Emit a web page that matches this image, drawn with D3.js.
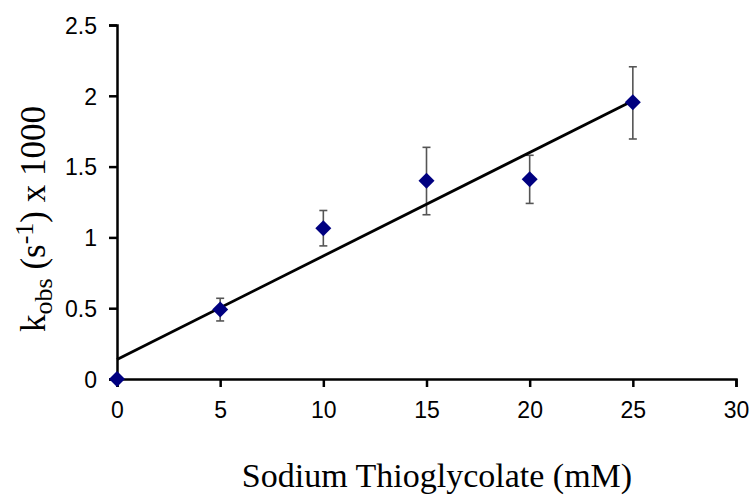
<!DOCTYPE html>
<html>
<head>
<meta charset="utf-8">
<script src="https://cdn.jsdelivr.net/npm/d3@7"></script>
<style>
  body { margin: 0; background: #fff; }
  svg { display: block; }
</style>
</head>
<body>
<div id="chart"></div>
<script>
// concentration (mM) and k_obs x 1000 with error bars
const conc = [0, 5, 10, 15, 20, 25];
const kobs = [0, 0.49, 1.064, 1.40, 1.41, 1.955];
const errLow = [0, 0.41, 0.94, 1.16, 1.24, 1.695];
const errHigh = [0, 0.57, 1.19, 1.636, 1.58, 2.205];
// linear fit
const fitX = [0, 25];
const fitY = [0.138, 1.965];
const xTicks = [0, 5, 10, 15, 20, 25, 30];
const yTicks = [0, 0.5, 1, 1.5, 2, 2.5];

const width = 751, height = 496;
const margin = { left: 117, right: 15, top: 25, bottom: 117 };

const svg = d3.select("#chart").append("svg")
    .attr("width", width)
    .attr("height", height);

const x = d3.scaleLinear().domain([0, 30]).range([margin.left, width - margin.right]);
const y = d3.scaleLinear().domain([0, 2.5]).range([height - margin.bottom, margin.top]);

// axes
const xAxis = svg.append("g")
    .attr("transform", `translate(0,${y(0)})`)
    .call(d3.axisBottom(x).tickValues(xTicks).tickSize(8).tickPadding(15).tickFormat(d3.format("")));
const yAxis = svg.append("g")
    .attr("transform", `translate(${x(0)},0)`)
    .call(d3.axisLeft(y).tickValues(yTicks).tickSize(8).tickPadding(12).tickFormat(d3.format("")));

[xAxis, yAxis].forEach(a => {
    a.select(".domain").attr("stroke", "#000").attr("stroke-width", 2.5);
    a.selectAll(".tick line").attr("stroke", "#000").attr("stroke-width", 2.5);
    a.selectAll(".tick text")
        .attr("fill", "#000")
        .attr("font-family", "'Liberation Sans', Arial, sans-serif")
        .attr("font-size", "23px");
});
yAxis.selectAll(".tick text").attr("dy", "0.36em");

// error bars
const eb = svg.append("g").attr("stroke", "#555").attr("stroke-width", 1.6);
conc.forEach((c, i) => {
    if (errHigh[i] === errLow[i]) return;
    eb.append("line").attr("x1", x(c)).attr("x2", x(c)).attr("y1", y(errLow[i])).attr("y2", y(errHigh[i]));
    [errLow[i], errHigh[i]].forEach(v => {
        eb.append("line").attr("x1", x(c) - 4).attr("x2", x(c) + 4).attr("y1", y(v)).attr("y2", y(v));
    });
});

// fitted line
svg.append("line")
    .attr("x1", x(fitX[0])).attr("y1", y(fitY[0]))
    .attr("x2", x(fitX[1])).attr("y2", y(fitY[1]))
    .attr("stroke", "#000")
    .attr("stroke-width", 2.8);

// diamonds
svg.append("g").selectAll("path")
    .data(conc)
    .join("path")
    .attr("transform", (d, i) => `translate(${x(d)},${y(kobs[i])})`)
    .attr("d", "M0,-8L8,0L0,8L-8,0Z")
    .attr("fill", "#000080");

// axis titles
svg.append("text")
    .attr("x", 437)
    .attr("y", 487)
    .attr("text-anchor", "middle")
    .attr("font-family", "'Liberation Serif', 'Times New Roman', serif")
    .attr("font-size", "34px")
    .text("Sodium Thioglycolate (mM)");

const yt = svg.append("text")
    .attr("transform", "translate(45,219) rotate(-90)")
    .attr("text-anchor", "middle")
    .attr("font-family", "'Liberation Serif', 'Times New Roman', serif")
    .attr("font-size", "35px");
yt.append("tspan").text("k");
yt.append("tspan").attr("font-size", "26px").attr("dy", 7).text("obs");
yt.append("tspan").attr("dy", -7).text(" (s");
yt.append("tspan").attr("font-size", "26px").attr("dy", -12).text("-1");
yt.append("tspan").attr("dy", 12).text(") x 1000");
</script>
</body>
</html>
